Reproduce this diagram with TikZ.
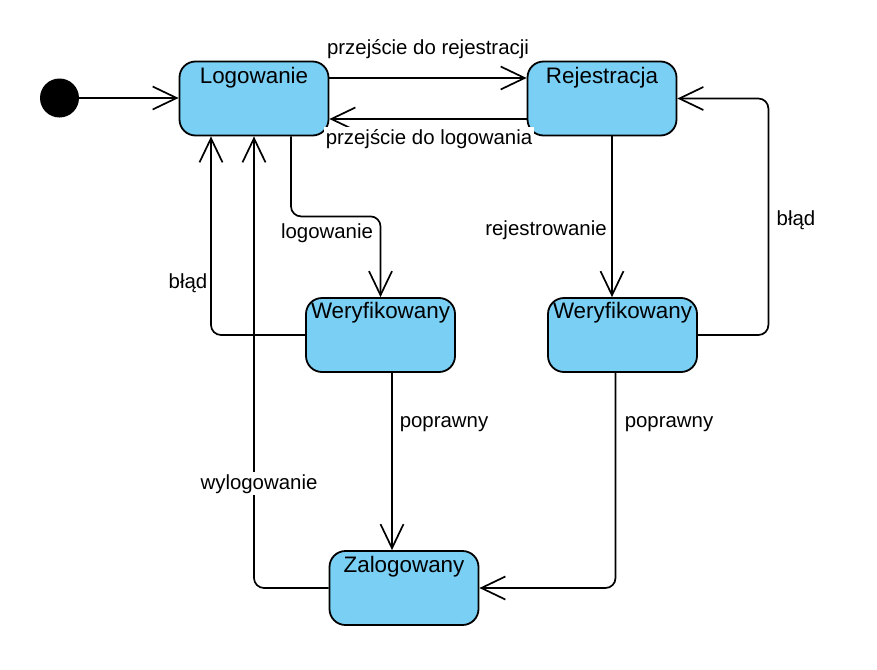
\documentclass[tikz,border=0pt]{standalone}
\usepackage{fontspec}
\setmainfont{Liberation Sans}
\usetikzlibrary{arrows.meta}
\definecolor{stfill}{RGB}{122,207,245}
\begin{document}
\begin{tikzpicture}[x=1pt,y=-1pt,
  statebox/.style={draw, line width=1.8pt, fill=stfill, rounded corners=16pt,
    minimum width=149pt, minimum height=74pt, inner sep=0pt},
  stitle/.style={font=\fontsize{22.4}{26}\selectfont, inner sep=0pt, anchor=base},
  lbl/.style={font=\fontsize{20.4}{24}\selectfont, inner sep=1pt, anchor=base},
  lblw/.style={lbl, fill=white, inner sep=2pt},
  conn/.style={line width=1.7pt, rounded corners=10pt,
    -{Straight Barb[length=24pt,width=23pt,line width=1.7pt]}}]
\useasboundingbox (0,0) rectangle (877,669);

% states
\node[circle, fill=black, minimum size=39pt, inner sep=0pt] (init) at (59.5,98) {};
\node[statebox] (logo) at (254,98.5) {};
\node[statebox] (rej) at (602,98.5) {};
\node[statebox] (wl) at (380.5,335) {};
\node[statebox] (wr) at (622.5,335) {};
\node[statebox] (zal) at (404,588) {};

\node[stitle] (tlogo) at (254,83) {Logowanie};
\node[stitle] (trej) at (602,83) {Rejestracja};
\node[stitle] (twl) at (380.5,318) {Weryfikowany};
\node[stitle] (twr) at (622.5,318) {Weryfikowany};
\node[stitle] (tzal) at (404,572) {Zalogowany};

% connectors
\draw[conn] (init.east) -- (init.east -| logo.west);
\draw[conn] ([yshift=20.5pt]logo.east) -- ([yshift=20.5pt]rej.west);
\draw[conn] ([yshift=-20.5pt]rej.west) -- ([yshift=-20.5pt]logo.east);
\draw[conn] ([xshift=37pt]logo.south) -- ++(0,80) -| (wl.north);
\draw[conn] (wl.west) -| ([xshift=-43pt]logo.south);
\draw[conn] (zal.west) -| (logo.south);
\draw[conn] ([xshift=11.5pt]wl.south) -- ([xshift=11.5pt]wl.south |- zal.north);
\draw[conn] ([xshift=10pt]rej.south) -- ([xshift=10pt]rej.south |- wr.north);
\draw[conn] (wr.east) -- ++(70.5,0) |- (rej.east);
\draw[conn] ([xshift=-7pt]wr.south) |- (zal.east);

% labels
\node[lbl] (l1) at (428,55) {przejście do rejestracji};
\node[lblw] (l2) at (429,144) {przejście do logowania};
\node[lbl] (l3) at (327,238) {logowanie};
\node[lbl] (l4) at (188,288) {błąd};
\node[lbl] (l5) at (546,235) {rejestrowanie};
\node[lbl] (l6) at (796,225) {błąd};
\node[lbl] (l7) at (444,427) {poprawny};
\node[lbl] (l8) at (669,427) {poprawny};
\node[lblw] (l9) at (259,489) {wylogowanie};
\end{tikzpicture}
\end{document}
